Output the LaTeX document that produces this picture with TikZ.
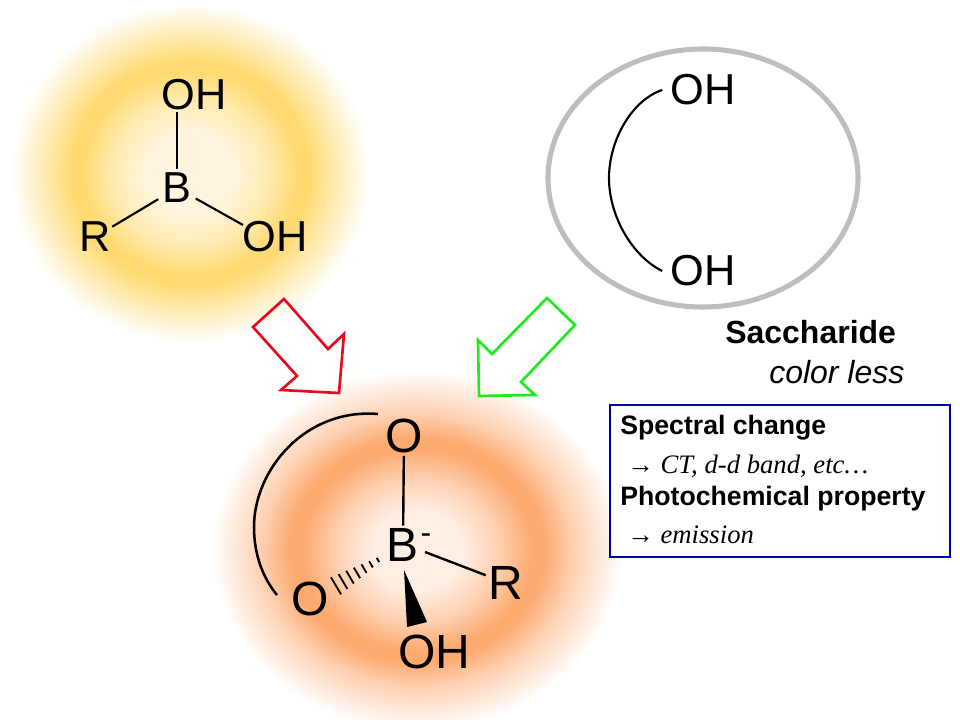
\documentclass[tikz,border=0pt]{standalone}
\usepackage{fontspec}
\setmainfont{Liberation Sans}
\newfontfamily\timesfont{Liberation Serif}
\usepackage{tikz}
\usetikzlibrary{calc}
\definecolor{glowyellow}{RGB}{254,218,112}
\definecolor{glowmid}{RGB}{255,234,174}
\definecolor{glowcream}{RGB}{255,245,222}
\definecolor{gloworange}{RGB}{252,170,112}
\definecolor{glowtan}{RGB}{254,208,176}
\definecolor{glowpeach}{RGB}{255,238,228}
\definecolor{boxblue}{RGB}{0,0,170}
\definecolor{ringgray}{RGB}{190,190,190}
\definecolor{arrowred}{RGB}{230,10,30}
\definecolor{arrowgreen}{RGB}{30,235,30}
\pgfdeclareradialshading{yellowglow}{\pgfpoint{0bp}{0bp}}{color(0bp)=(glowcream); color(6bp)=(glowcream); color(11bp)=(glowmid); color(15bp)=(glowyellow); color(16.5bp)=(glowyellow); color(20bp)=(glowmid); color(25bp)=(white); color(50bp)=(white)}
\pgfdeclareradialshading{orangeglow}{\pgfpoint{0bp}{0bp}}{color(0bp)=(glowpeach); color(5.5bp)=(glowpeach); color(10bp)=(glowtan); color(14bp)=(gloworange); color(15.5bp)=(gloworange); color(19bp)=(glowtan); color(25bp)=(white); color(50bp)=(white)}
\tikzstyle{small atom}=[font=\fontsize{32.5}{32.5}\selectfont,inner sep=1pt]
\tikzstyle{big atom}=[font=\fontsize{36}{36}\selectfont,inner sep=2pt]
\tikzstyle{bond}=[line width=1.6pt]
\tikzstyle{thick bond}=[line width=1.8pt]
\begin{document}
\begin{tikzpicture}[x=0.75pt,y=-0.75pt]
\useasboundingbox (0,0) rectangle (960,720);
% glows
\shade[shading=yellowglow] (190,173) ellipse (180 and 170);
\shade[shading=orangeglow] (417,550) ellipse (205 and 180);
% boronic acid
\node [small atom,inner sep=3pt] (b1) at (177,188) {B};
\node [small atom] (oh1) at (194,95) {OH};
\node [small atom] (r1) at (95,237) {R};
\node [small atom] (oh2) at (275,237) {OH};
\coordinate (oh2top) at (243,225);
\draw [bond] (b1) -- (b1 |- oh1.south);
\draw [bond] (b1) -- (r1);
\draw [bond] (b1) -- (oh2top);
% saccharide
\draw [ringgray,line width=3.8pt] (703,178) ellipse (155 and 129);
\node [small atom,inner sep=6pt] (oh3) at (703,90) {OH};
\node [small atom,inner sep=6pt] (oh4) at (703,271) {OH};
\draw [bond] (oh3.west) .. controls (632,100) and (609,140) .. (609,178)
  .. controls (609,216) and (632,256) .. (oh4.west);
\node [font=\fontsize{24}{24}\selectfont\bfseries,anchor=base west,inner sep=0pt] (sugar) at (725,343) {Saccharide};
\node [font=\fontsize{24}{24}\selectfont\itshape,anchor=base west,inner sep=0pt] (colorless) at (769,383) {color less};
% arrows
\draw [arrowred,line width=2pt,line join=miter] (284,299) -- (328,349) -- (344,334) -- (339,393)
  -- (281,390) -- (297,376) -- (253,327) -- cycle;
\draw [arrowgreen,line width=2pt,line join=miter] (547,298) -- (492,354) -- (478,340) -- (479,396)
  -- (535,395) -- (521,382) -- (575,325) -- cycle;
% boronate
\node [big atom] (b2) at (403,545) {B};
\node [font=\fontsize{24}{24}\selectfont,inner sep=0pt] (minus) at (426,539) {-};
\node [big atom] (o1) at (404,436) {O};
\node [big atom] (o2) at (310,599) {O};
\node [big atom] (r2) at (506,583) {R};
\node [font=\fontsize{36}{36}\selectfont,inner sep=1pt] (oh5) at (434,652) {OH};
\draw [thick bond] (o1) -- (b2);
\draw [thick bond] (425,552) -- (r2);
\coordinate (wedgetip) at (404,570);
\fill (wedgetip) -- (407,627) -- (427,622) -- cycle;
\foreach \i/\len in {0/2.5,1/3.7,2/5,3/6.2,4/7.5,5/8.7,6/10}
  \draw [line width=1.4pt] ($(378,560)+(-7*\i,4.3*\i)+(-0.5*\len,-0.85*\len)$)
    -- ($(378,560)+(-7*\i,4.3*\i)+(0.5*\len,0.85*\len)$);
\draw [line width=1.9pt] (378,414) .. controls (305,408) and (254,470) .. (254,527)
  .. controls (254,555) and (263,578) .. (277,595);
% info box
\node [draw=boxblue,fill=white,line width=1.2pt,minimum width=255pt,minimum height=114pt,anchor=north west] (info) at (609,404) {};
\node [font=\fontsize{20}{20}\selectfont\bfseries,anchor=base west,inner sep=0pt] (spectral) at (620,434) {Spectral change};
\node [font=\fontsize{20}{20}\selectfont\timesfont\itshape,anchor=base west,inner sep=0pt] (ct) at (627,473) {{\normalfont →} CT, d-d band, etc…};
\node [font=\fontsize{20}{20}\selectfont\bfseries,anchor=base west,inner sep=0pt] (photo) at (620,505) {Photochemical property};
\node [font=\fontsize{20}{20}\selectfont\timesfont\itshape,anchor=base west,inner sep=0pt] (emission) at (627,543) {{\normalfont →} emission};
\end{tikzpicture}
\end{document}
